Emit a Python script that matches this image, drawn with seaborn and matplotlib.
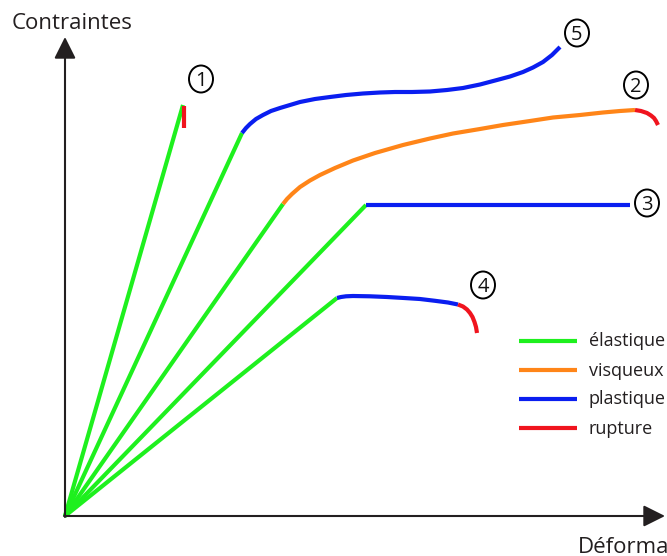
import matplotlib
matplotlib.use("Agg")
import matplotlib.pyplot as plt
from matplotlib.patches import Ellipse
import seaborn as sns
import pandas as pd

sns.set_theme(style="white")
plt.rcParams['font.family'] = ['Open Sans', 'DejaVu Sans']

# Schematic curves (x, y in drawing units, y grows downward)
c1_elastic_x = [65, 183]; c1_elastic_y = [516, 105]
c1_rupture_x = [184, 184]; c1_rupture_y = [106, 128]

c5_elastic_x = [65, 242]; c5_elastic_y = [516, 133]
c5_plastic_x = [242, 246, 250, 256, 263, 271, 280, 290, 300, 315, 330, 346, 363, 380,
                395, 412, 430, 447, 463, 480, 497, 510, 523, 533, 543, 552, 560]
c5_plastic_y = [133, 128, 124, 119, 115, 111, 108, 105, 102, 99, 97, 95, 93.5, 92.5,
                92, 92, 91.5, 90, 88, 84.5, 80, 76.5, 72, 67.5, 62, 55, 47]

c2_elastic_x = [65, 283]; c2_elastic_y = [516, 204]
c2_visq_x = [283, 287, 292, 300, 310, 320, 335, 353, 375, 403, 430, 453, 480, 503,
             530, 553, 580, 603, 620, 635]
c2_visq_y = [204, 199, 194, 187, 180.5, 175, 168, 160.5, 153, 145, 138.5, 133.5, 129, 125,
             121, 117.5, 115, 112.5, 111, 110]
c2_rupture_x = [635, 641, 647, 651, 654, 656, 658]
c2_rupture_y = [110, 111, 113, 115.5, 118, 121, 125]

c3_elastic_x = [65, 366]; c3_elastic_y = [516, 205]
c3_plastic_x = [366, 630]; c3_plastic_y = [205, 205]

c4_elastic_x = [65, 337]; c4_elastic_y = [516, 298]
c4_plastic_x = [337, 341, 346, 353, 370, 387, 404, 420, 435, 448, 458]
c4_plastic_y = [298, 297, 296.3, 296, 296.3, 297, 298, 299, 300.8, 302.5, 304.5]
c4_rupture_x = [458, 463, 467, 470, 472.5, 474.5, 476, 477]
c4_rupture_y = [304.5, 306.5, 309.5, 313, 317, 322, 327, 333]

labels_txt = ["1", "2", "3", "4", "5"]
labels_x = [201, 636, 647, 483, 577]
labels_y = [79, 85, 203, 285, 33]

legend_names = ["élastique", "visqueux", "plastique", "rupture"]
colors = {"élastique": "#1ef01e", "visqueux": "#ff8518", "plastique": "#0a1ef0", "rupture": "#f0141e"}

fig = plt.figure(figsize=(6.67, 5.56), dpi=100)
ax = fig.add_axes([0, 0, 1, 1])

segments = [
    (c1_elastic_x, c1_elastic_y, "élastique"),
    (c5_elastic_x, c5_elastic_y, "élastique"),
    (c2_elastic_x, c2_elastic_y, "élastique"),
    (c3_elastic_x, c3_elastic_y, "élastique"),
    (c4_elastic_x, c4_elastic_y, "élastique"),
    (c5_plastic_x, c5_plastic_y, "plastique"),
    (c2_visq_x, c2_visq_y, "visqueux"),
    (c3_plastic_x, c3_plastic_y, "plastique"),
    (c4_plastic_x, c4_plastic_y, "plastique"),
    (c1_rupture_x, c1_rupture_y, "rupture"),
    (c2_rupture_x, c2_rupture_y, "rupture"),
    (c4_rupture_x, c4_rupture_y, "rupture"),
]
for xs, ys, kind in segments:
    df = pd.DataFrame({"x": xs, "y": ys})
    sns.lineplot(data=df, x="x", y="y", sort=False, color=colors[kind],
                 linewidth=3, ax=ax, legend=False, estimator=None,
                 solid_capstyle='butt', solid_joinstyle='round')

# axes arrows
axis_col = "#231f20"
ax.annotate("", xy=(65, 37), xytext=(65, 517),
            arrowprops=dict(arrowstyle="-|>,head_length=1.1,head_width=0.55",
                            color=axis_col, lw=1.5, shrinkA=0, shrinkB=0))
ax.annotate("", xy=(665, 516), xytext=(64, 516),
            arrowprops=dict(arrowstyle="-|>,head_length=1.1,head_width=0.55",
                            color=axis_col, lw=1.5, shrinkA=0, shrinkB=0))
ax.text(12, 29, "Contraintes", fontsize=16, color=axis_col, va='baseline', ha='left')
ax.text(578, 553, "Déformation", fontsize=16, color=axis_col, va='baseline', ha='left',
        clip_on=False)

for t, x, y in zip(labels_txt, labels_x, labels_y):
    ax.add_patch(Ellipse((x, y), 24, 27, fc="white", ec="black", lw=1.4, zorder=3))
    ax.text(x, y + 7, t, fontsize=14.5, color="#111111", ha='center', va='baseline', zorder=4)

# legend
leg_y = [341, 370, 399, 428]
for name, y in zip(legend_names, leg_y):
    df = pd.DataFrame({"x": [519, 577], "y": [y, y]})
    sns.lineplot(data=df, x="x", y="y", color=colors[name], linewidth=3,
                 ax=ax, legend=False, estimator=None, solid_capstyle='butt')
    ax.text(589, y + 5.5, name, fontsize=13, color=axis_col, va='baseline', ha='left')

ax.set_xlim(0, 667)
ax.set_ylim(556, 0)
ax.axis('off')
fig.savefig("out.png", dpi=100)
